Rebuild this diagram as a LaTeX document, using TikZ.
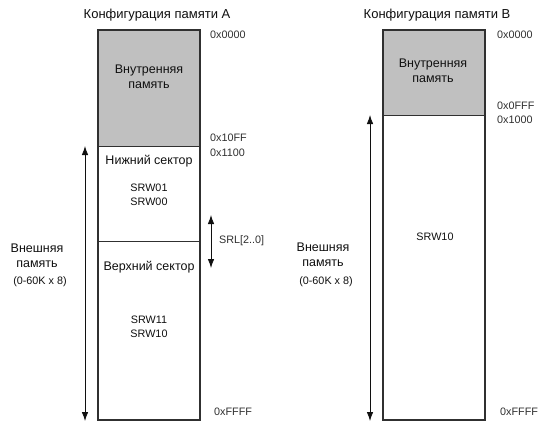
\documentclass[tikz,border=0pt]{standalone}
\usepackage{fontspec}
\setmainfont{Liberation Sans}
\usetikzlibrary{arrows.meta}
\definecolor{boxc}{HTML}{303030}
\definecolor{txtc}{HTML}{101010}
\definecolor{hexc}{HTML}{303030}
\definecolor{grayf}{HTML}{C0C0C0}
\begin{document}
\begin{tikzpicture}[x=1pt,y=-1pt,
  box/.style={draw=boxc,line width=2pt,inner sep=0pt,minimum width=102pt},
  inner/.style={fill=grayf,draw=none,inner sep=0pt,minimum width=102pt},
  txt/.style={font=\fontsize{12.5}{15}\selectfont,text=txtc,align=center,inner sep=0pt},
  small/.style={txt,font=\fontsize{10.8}{14}\selectfont},
  hex/.style={font=\fontsize{10.8}{12}\selectfont,text=hexc,anchor=west,inner sep=0pt},
  arr/.style={line width=0.8pt,draw=txtc,{Latex[length=9pt,width=6.5pt]}-{Latex[length=9pt,width=6.5pt]}}]
\useasboundingbox (0,0) rectangle (541,424);
\fill[white] (0,0) rectangle (541,424);

% ---------- Configuration A ----------
\node[txt,font=\fontsize{13}{15}\selectfont] (titleA) at (157,15) {Конфигурация памяти А};
\node[inner,minimum height=116pt] (intA) at (149,88) {};
\node[box,minimum height=390pt] (boxA) at (149,225) {};
\coordinate (divAl) at (98,146);
\coordinate (divAr) at (200,146);
\draw[boxc,line width=0.8pt] (divAl) -- (divAr);
\coordinate (secAl) at (98,241);
\coordinate (secAr) at (200,241);
\draw[boxc,line width=1pt] (secAl) -- (secAr);

\node[txt] (intAtxt) at (149,77) {Внутренняя\\память};
\node[txt] (lowA) at (149,161) {Нижний сектор};
\node[small] (srw0) at (149,195) {SRW01\\SRW00};
\node[txt] (highA) at (149,267) {Верхний сектор};
\node[small] (srw1) at (149,327) {SRW11\\SRW10};

\node[hex] (a0000) at (210,35) {0x0000};
\node[hex] (a10FF) at (210,138) {0x10FF};
\node[hex] (a1100) at (210,153) {0x1100};
\node[hex] (aFFFF) at (214,412) {0xFFFF};

\coordinate (arrAt) at (85,146);
\coordinate (arrAb) at (85,421);
\draw[arr] (arrAt) -- (arrAb);
\node[txt] (extA) at (37,256) {Внешняя\\память};
\node[small] (sizeA) at (40,282) {(0-60K x 8)};

\coordinate (srlt) at (211,215);
\coordinate (srlb) at (211,268);
\draw[arr] (srlt) -- (srlb);
\node[hex] (srl) at (219,241) {SRL[2..0]};

% ---------- Configuration B ----------
\node[txt,font=\fontsize{13}{15}\selectfont] (titleB) at (437,15) {Конфигурация памяти В};
\node[inner,minimum height=85pt] (intB) at (434,72.5) {};
\node[box,minimum height=390pt] (boxB) at (434,225) {};
\coordinate (divBl) at (383,115);
\coordinate (divBr) at (485,115);
\draw[boxc,line width=0.8pt] (divBl) -- (divBr);

\node[txt] (intBtxt) at (433,71) {Внутренняя\\память};
\node[small] (srwB) at (435,237) {SRW10};

\node[hex] (b0000) at (497,35) {0x0000};
\node[hex] (b0FFF) at (497,106) {0x0FFF};
\node[hex] (b1000) at (497,120) {0x1000};
\node[hex] (bFFFF) at (500,412) {0xFFFF};

\coordinate (arrBt) at (370,115);
\coordinate (arrBb) at (370,421);
\draw[arr] (arrBt) -- (arrBb);
\node[txt] (extB) at (323,255) {Внешняя\\память};
\node[small] (sizeB) at (326,282) {(0-60K x 8)};
\end{tikzpicture}
\end{document}
